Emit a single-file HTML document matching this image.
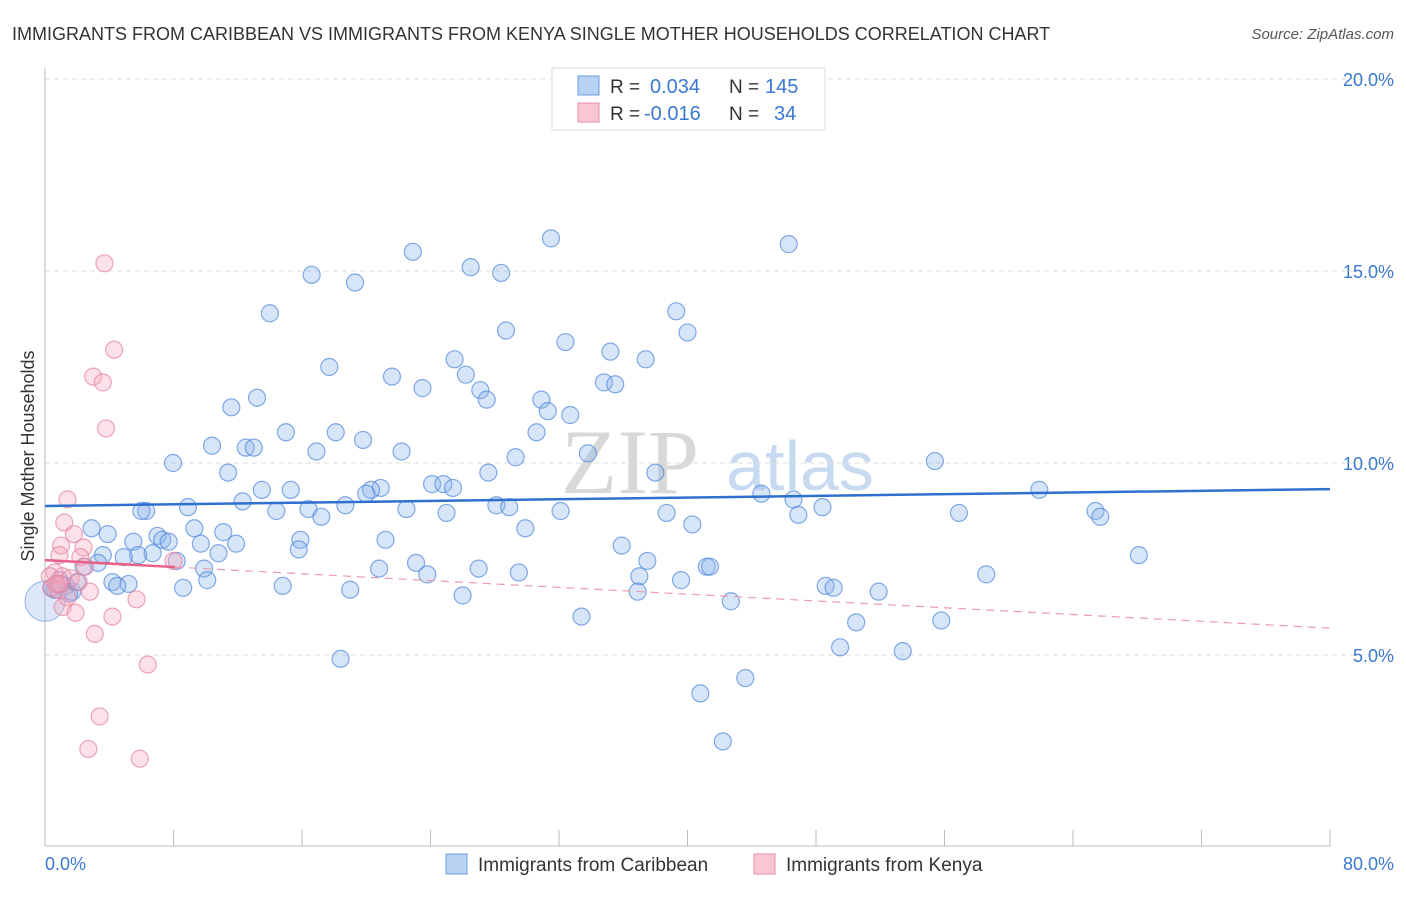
<!DOCTYPE html>
<html><head><meta charset="utf-8"><style>
body{margin:0;background:#fff;font-family:"Liberation Sans",sans-serif}
svg text{font-family:"Liberation Sans",sans-serif}
</style></head><body>
<svg id="chart" width="1406" height="892" viewBox="0 0 1406 892">
<text x="12" y="40" font-size="18" fill="#333">IMMIGRANTS FROM CARIBBEAN VS IMMIGRANTS FROM KENYA SINGLE MOTHER HOUSEHOLDS CORRELATION CHART</text>
<text x="1394" y="39" font-size="15" fill="#555" font-style="italic" text-anchor="end">Source: ZipAtlas.com</text>
<g>
<text x="630" y="493" font-size="92" fill="#d8d8d8" font-family="Liberation Serif" text-anchor="middle" style="font-family:'Liberation Serif',serif">ZIP</text>
<text x="800" y="490" font-size="70" fill="#c8daf2" text-anchor="middle">atlas</text>
</g>
<g id="grid"></g>
<g id="axes"></g>
<g id="pts"></g>
<g id="trend"></g>
<text x="34" y="456" font-size="18" fill="#333" text-anchor="middle" transform="rotate(-90 34 456)">Single Mother Households</text>
<text x="45" y="870" font-size="18" fill="#3b78d0">0.0%</text>
<text x="1394" y="870" font-size="18" fill="#3b78d0" text-anchor="end">80.0%</text>
<g>
<rect x="552" y="68" width="273" height="62" fill="#fff" stroke="#ddd"/>
<rect x="578" y="76" width="21" height="19" fill="#b8d2f4" stroke="#6d9de0"/>
<rect x="578" y="103" width="21" height="19" fill="#f9c6d4" stroke="#ea8ea8"/>
<text x="610" y="93" font-size="19" fill="#333">R = </text><text x="650" y="93" font-size="20" fill="#3b78d0">0.034</text>
<text x="729" y="93" font-size="19" fill="#333">N = </text><text x="765" y="93" font-size="20" fill="#3b78d0">145</text>
<text x="610" y="120" font-size="19" fill="#333">R = </text><text x="644" y="120" font-size="20" fill="#3b78d0">-0.016</text>
<text x="729" y="120" font-size="19" fill="#333">N = </text><text x="774" y="120" font-size="20" fill="#3b78d0">34</text>
</g>
<g>
<rect x="446" y="854" width="21" height="20" fill="#b8d2f4" stroke="#6d9de0"/>
<text x="478" y="871" font-size="19" fill="#333">Immigrants from Caribbean</text>
<rect x="754" y="854" width="21" height="20" fill="#f9c6d4" stroke="#ea8ea8"/>
<text x="786" y="871" font-size="19" fill="#333">Immigrants from Kenya</text>
</g>
</svg>
<script>
const yTicks=[5,10,15,20];
const yTickLabels=["5.0%","10.0%","15.0%","20.0%"];
const xTicks=[0,8,16,24,32,40,48,56,64,72,80];
const blueX=[31.5,46.3,22.9,26.5,28.4,16.6,19.3,14.0,39.3,28.7,40.0,32.4,35.2,25.5,37.4,17.7,26.2,21.6,34.8,35.5,23.5,27.1,13.2,27.5,30.9,11.6,31.3,32.7,15.0,18.1,30.6,19.8,10.4,12.5,13.0,16.9,22.2,33.8,29.3,7.97,55.4,11.4,27.6,38.0,24.1,24.8,13.5,15.3,20.9,20.3,25.4,20.0,61.9,44.6,46.6,12.3,18.7,8.9,22.5,28.1,28.9,48.4,6.3,6.0,14.4,16.4,25.0,32.1,38.7,46.9,56.9,65.4,65.7,17.2,2.9,9.3,40.3,29.9,11.1,3.9,7.0,7.3,7.7,5.5,15.9,21.2,11.9,9.7,35.9,15.8,3.6,5.8,4.9,6.7,10.8,68.1,8.2,37.5,3.3,2.4,9.9,20.8,27.0,41.2,41.4,23.1,23.8,29.5,37.0,58.6,10.1,39.6,4.2,5.2,4.5,14.8,8.6,19.0,48.6,49.1,51.9,36.9,26.0,1.7,1.3,0.9,0.6,42.7,33.4,55.8,50.5,49.5,53.4,18.4,43.6,40.8,42.2,1.0,1.5,2.0,0.4];
const blueY=[15.85,15.7,15.5,15.1,14.95,14.9,14.7,13.9,13.95,13.45,13.4,13.15,12.9,12.7,12.7,12.5,12.3,12.25,12.1,12.05,11.95,11.9,11.7,11.65,11.65,11.45,11.35,11.25,10.8,10.8,10.8,10.6,10.45,10.4,10.4,10.3,10.3,10.25,10.15,10.0,10.05,9.75,9.75,9.75,9.45,9.45,9.3,9.3,9.35,9.3,9.35,9.2,9.3,9.2,9.05,9.0,8.9,8.85,8.8,8.9,8.85,8.85,8.75,8.75,8.75,8.8,8.7,8.75,8.7,8.65,8.7,8.75,8.6,8.6,8.3,8.3,8.4,8.3,8.2,8.15,8.1,8.0,7.95,7.95,8.0,8.0,7.9,7.9,7.85,7.75,7.6,7.6,7.55,7.65,7.65,7.6,7.45,7.45,7.4,7.3,7.25,7.25,7.25,7.3,7.3,7.4,7.1,7.15,7.05,7.1,6.95,6.95,6.9,6.85,6.8,6.8,6.75,6.7,6.8,6.75,6.65,6.65,6.55,6.65,6.8,6.95,6.7,6.4,6.0,5.9,5.85,5.2,5.1,4.9,4.4,4.0,2.75,6.85,6.6,6.9,6.75];
const pinkX=[3.7,4.3,3.0,3.6,3.8,1.4,1.2,1.8,1.0,2.4,0.9,2.2,2.5,8.0,0.6,0.3,1.1,1.6,0.4,0.8,2.1,2.8,1.4,5.7,1.1,1.9,4.2,3.1,6.4,3.4,2.7,5.9,0.7,0.9];
const pinkY=[15.2,12.95,12.25,12.1,10.9,9.05,8.45,8.15,7.85,7.8,7.6,7.55,7.3,7.45,7.15,7.05,7.05,7.0,6.75,6.7,6.9,6.65,6.5,6.45,6.25,6.1,6.0,5.55,4.75,3.4,2.55,2.3,6.85,6.85];
const blueTrendX=[0,80], blueTrendY=[8.88,9.32];
const pinkSolidX=[0,8.1], pinkSolidY=[7.47,7.29];
const pinkDashX=[8.1,80], pinkDashY=[7.29,5.7];
const X=v=>45+v/80*1285, Y=v=>847-v*38.4;
const NS="http://www.w3.org/2000/svg";
function mk(t,a,p){const e=document.createElementNS(NS,t);for(const k in a)e.setAttribute(k,a[k]);p.appendChild(e);return e;}
const grid=document.getElementById('grid'),axes=document.getElementById('axes'),pts=document.getElementById('pts'),tr=document.getElementById('trend');
yTicks.forEach((v,i)=>{
 const l=mk('line',{x1:45,x2:1394,y1:Y(v),y2:Y(v),stroke:'#ddd','stroke-dasharray':'5,4'},grid);
 
 
 const t=mk('text',{x:1394,y:Y(v)+7,'font-size':18,fill:'#3b78d0','text-anchor':'end'},axes);
 t.textContent=yTickLabels[i];
 
 
});
const ax=mk('line',{x1:45,x2:45,y1:68,y2:846,stroke:'#bbb'},axes);


const bx=mk('line',{x1:45,x2:1330,y1:846,y2:846,stroke:'#bbb'},axes);


xTicks.forEach(v=>{
 const t=mk('line',{x1:X(v),x2:X(v),y1:830,y2:846,stroke:'#bbb'},axes);
 
 
});
const big=mk('circle',{cx:X(0),cy:Y(6.4),r:20,fill:'rgba(140,180,235,0.3)',stroke:'rgba(90,140,220,0.6)'},pts);


blueX.forEach((v,i)=>{
 const c=mk('circle',{cx:X(v),cy:Y(blueY[i]),r:8.5,fill:'rgba(140,180,235,0.35)',stroke:'rgba(80,135,220,0.7)','stroke-width':1.2},pts);
 
 
});
pinkX.forEach((v,i)=>{
 const c=mk('circle',{cx:X(v),cy:Y(pinkY[i]),r:8.5,fill:'rgba(245,170,190,0.35)',stroke:'rgba(230,130,160,0.7)','stroke-width':1.2},pts);
 
 
});
const b=mk('line',{x1:X(blueTrendX[0]),y1:Y(blueTrendY[0]),x2:X(blueTrendX[1]),y2:Y(blueTrendY[1]),stroke:'#2f6fd0','stroke-width':2.5},tr);


const p=mk('line',{x1:X(pinkSolidX[0]),y1:Y(pinkSolidY[0]),x2:X(pinkSolidX[1]),y2:Y(pinkSolidY[1]),stroke:'#e8608a','stroke-width':2.5},tr);


const pd=mk('line',{x1:X(pinkDashX[0]),y1:Y(pinkDashY[0]),x2:X(pinkDashX[1]),y2:Y(pinkDashY[1]),stroke:'#eb9ab2','stroke-width':1.2,'stroke-dasharray':'8,6'},tr);


</script>
</body></html>
